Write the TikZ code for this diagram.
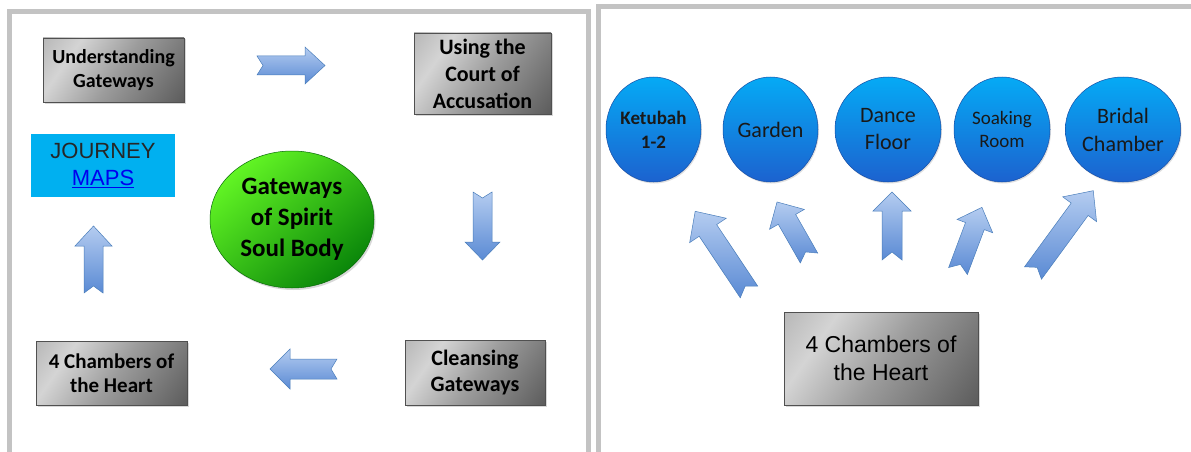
\documentclass[tikz,border=0pt]{standalone}
\usepackage{fontspec}
\setmainfont{Carlito}
\newfontfamily\ari{Liberation Sans}
\usetikzlibrary{shapes.geometric,shadows}
\definecolor{frame}{HTML}{C3C3C3}
\definecolor{gA}{HTML}{9A9A9A}
\definecolor{gB}{HTML}{D4D4D4}
\definecolor{gC}{HTML}{9C9C9C}
\definecolor{gD}{HTML}{3E3E3E}
\definecolor{boxline}{HTML}{505050}
\definecolor{arrlight}{HTML}{B4CCF0}
\definecolor{arrdark}{HTML}{5A8AD4}
\definecolor{arrline}{HTML}{4A7EBB}
\definecolor{greenlight}{HTML}{62F524}
\definecolor{greendark}{HTML}{0A860A}
\definecolor{bluelight}{HTML}{05AAF5}
\definecolor{bluedark}{HTML}{1C62CF}
\definecolor{journey}{HTML}{00B0F0}
\definecolor{linkblue}{HTML}{0000EE}
\pgfdeclarehorizontalshading{grayb}{100bp}{color(0bp)=(gA); color(30bp)=(gB); color(52bp)=(gC); color(100bp)=(gD)}
\newcommand\blkarrow[9]{%
  \begin{scope}[shift={(#2,#3)}, rotate=#4]
    \coordinate (#1-tail) at (0,0);
    \coordinate (#1-tip) at (#5,0);
    \path[barrow] (#1-tail) ++(0,#6) -- ({#5-#8},#6) -- ({#5-#8},#7) -- (#1-tip)
      -- ({#5-#8},-#7) -- ({#5-#8},-#6) -- (0,-#6) -- (#9,0) -- cycle;
  \end{scope}}
\tikzset{
  gbox/.style={draw=boxline, line width=0.7pt, shade, shading=grayb, shading angle=-35,
    align=center, inner sep=0pt, text=black,
    drop shadow={opacity=0.3, shadow xshift=1.5pt, shadow yshift=-1.5pt}},
  barrow/.style={draw=arrline, line width=0.5pt, top color=arrlight, bottom color=arrdark},
  bcirc/.style={ellipse, draw=bluedark!80!black, line width=0.5pt, top color=bluelight,
    bottom color=bluedark, align=center, inner sep=0pt, text=black!90,
    minimum height=105pt,
    drop shadow={opacity=0.25, shadow xshift=1pt, shadow yshift=-1.5pt}},
  framel/.style={draw=frame, line width=5pt}
}
\begin{document}
\begin{tikzpicture}[x=1pt, y=-1pt]
\useasboundingbox (0,0) rectangle (1191,452);
\fill[white] (0,0) rectangle (1191,452);
% frames
\draw[framel] (9.5,460) -- (9.5,11.5) -- (588.5,11.5) -- (588.5,460);
\draw[framel] (598.5,460) -- (598.5,6.5) -- (1200,6.5);

% left panel
\node[gbox, minimum width=141pt, minimum height=64pt, font=\bfseries\fontsize{20}{24}\selectfont]
  (ug) at (113.5,70) {Understanding\\Gateways};
\node[gbox, minimum width=137pt, minimum height=81pt, font=\bfseries\fontsize{22}{27}\selectfont]
  (court) at (482.5,73.5) {Using the\\Court of\\Accusation};
\node[fill=journey, minimum width=144pt, minimum height=63pt, inner sep=0pt, align=center,
  text=black!85, font=\ari\fontsize{22}{27}\selectfont]
  (jm) at (103,165.5) {JOURNEY\\\textcolor{linkblue}{\underline{MAPS}}};
\node[ellipse, minimum width=164pt, minimum height=137pt, inner sep=0pt, draw=greendark!80!black, line width=0.5pt,
  top color=greenlight, bottom color=greendark, shading angle=40, align=center,
  font=\bfseries\fontsize{25}{31}\selectfont, text=black,
  drop shadow={opacity=0.3, shadow xshift=1.5pt, shadow yshift=-2pt}]
  (gw) at (292,219.5) {Gateways\\of Spirit\\Soul Body};
\node[gbox, minimum width=140pt, minimum height=65pt, font=\bfseries\fontsize{22}{26}\selectfont]
  (cg) at (475,372.5) {Cleansing\\Gateways};
\node[gbox, minimum width=151pt, minimum height=64pt, font=\bfseries\fontsize{21}{24}\selectfont]
  (ch) at (111.5,373) {4 Chambers of\\the Heart};

\blkarrow{ar}{257}{65.5}{0}{68}{9.5}{18.5}{20}{6}
\blkarrow{ad}{482.5}{192}{-90}{68}{9.5}{17.5}{18}{6}
\blkarrow{al}{337}{369}{180}{67}{10}{20}{20}{6}
\blkarrow{au}{93.5}{293}{90}{67}{9.5}{18.5}{20}{7}

% right panel
\node[bcirc, minimum width=95pt, font=\bfseries\fontsize{19}{24}\selectfont] (ket) at (653.5,129.5) {Ketubah\\1-2};
\node[bcirc, minimum width=95pt, font=\fontsize{22}{27}\selectfont] (gar) at (770.5,129.5) {Garden};
\node[bcirc, minimum width=106pt, font=\fontsize{22}{27}\selectfont] (dance) at (888,129.5) {Dance\\Floor};
\node[bcirc, minimum width=96pt, font=\fontsize{19}{23}\selectfont] (soak) at (1002,129.5) {Soaking\\Room};
\node[bcirc, minimum width=106pt, font=\fontsize{22}{28}\selectfont] (bridal) at (1123,129.5) {Bridal\\Chamber};
\node[gbox, minimum width=194pt, minimum height=93pt, font=\ari\fontsize{23}{28}\selectfont]
  (heart) at (881,358.5) {4 Chambers of\\the Heart};

\blkarrow{r1}{749}{292}{123.7}{97}{10.5}{22}{23}{7}
\blkarrow{r2}{809}{258}{119.7}{64.5}{10}{20}{20}{7}
\blkarrow{r3}{892}{260}{90}{68}{10}{19}{19}{8}
\blkarrow{r4}{958}{271}{69.4}{68}{10}{19}{20}{7}
\blkarrow{r5}{1033}{273}{53.8}{102}{10.5}{21}{23}{7}
\end{tikzpicture}
\end{document}
